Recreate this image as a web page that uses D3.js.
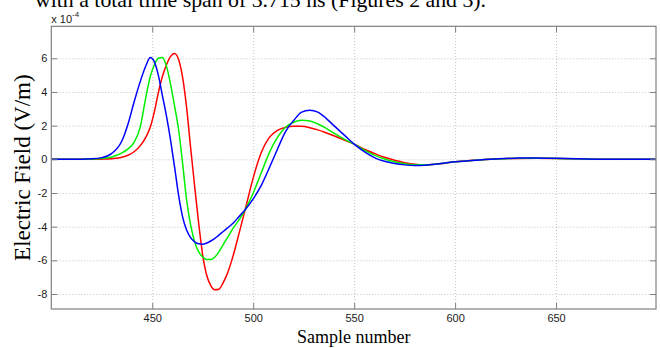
<!DOCTYPE html>
<html>
<head>
<meta charset="utf-8">
<script src="https://cdn.jsdelivr.net/npm/d3@7/dist/d3.min.js"></script>
<style>
	body { margin: 0; background: #fff; }
	svg { display: block; }
	.tick text { font-family: "Liberation Sans", Arial, sans-serif; font-size: 11px; fill: #1a1a1a; }
</style>
</head>
<body>
<div id="chart"></div>
<script>
// sample numbers shared by the three waveforms
var samples = [400, 410, 420, 425, 430, 435, 438, 441, 444, 447, 449, 451, 453, 455, 457, 459, 461, 463, 465, 467,
	469, 471, 473, 475, 477, 479, 481, 483, 485, 487, 490, 493, 496, 500, 504, 508, 512, 516, 520, 524,
	528, 532, 536, 540, 545, 550, 555, 560, 565, 570, 575, 580, 585, 590, 595, 600, 610, 620, 630, 640,
	650, 660, 670, 680, 690, 700];

// electric field, units of 1e-4 V/m
var redField = [0, 0, 0, 0.01, 0.04, 0.12, 0.24, 0.45, 0.8, 1.35, 1.9, 2.8, 3.95, 4.9, 5.6, 6.1, 6.28, 5.95, 4.9, 3.1,
	0.7, -1.6, -3.8, -5.7, -6.9, -7.5, -7.75, -7.72, -7.35, -6.85, -5.75, -4.4, -3.0, -1.1, 0.4, 1.3, 1.72, 1.9, 1.97, 1.96,
	1.88, 1.75, 1.58, 1.4, 1.15, 0.9, 0.6, 0.35, 0.12, -0.05, -0.2, -0.3, -0.33, -0.3, -0.23, -0.15, -0.05, 0.02, 0.05, 0.06,
	0.05, 0.03, 0.01, 0, 0, 0];

var greenField = [0, 0, 0.02, 0.05, 0.14, 0.38, 0.62, 1.0, 1.9, 3.8, 4.9, 5.6, 6.0, 6.05, 5.55, 4.5, 3.2, 1.8, -0.2, -2.4,
	-3.9, -4.9, -5.5, -5.8, -5.95, -5.95, -5.8, -5.5, -5.1, -4.7, -4.1, -3.6, -3.0, -2.0, -0.8, 0.4, 1.3, 1.9, 2.2, 2.32,
	2.28, 2.1, 1.85, 1.55, 1.2, 0.9, 0.55, 0.25, 0.02, -0.15, -0.27, -0.33, -0.33, -0.3, -0.22, -0.15, -0.05, 0.02, 0.06, 0.07,
	0.05, 0.03, 0.01, 0, 0, 0];

var blueField = [0, 0, 0.03, 0.1, 0.35, 1.1, 2.1, 3.4, 4.6, 5.6, 6.05, 5.8, 5.0, 3.8, 2.6, 1.2, -0.4, -2.1, -3.4, -4.2,
	-4.65, -4.9, -5.02, -5.04, -4.97, -4.85, -4.7, -4.5, -4.3, -4.1, -3.8, -3.4, -3.0, -2.35, -1.55, -0.5, 0.6, 1.65, 2.3, 2.8,
	2.92, 2.8, 2.45, 2.0, 1.45, 0.9, 0.45, 0.1, -0.12, -0.25, -0.33, -0.36, -0.35, -0.3, -0.22, -0.15, -0.05, 0.02, 0.07, 0.08,
	0.06, 0.03, 0.01, 0, 0, 0];

var xTicks = [450, 500, 550, 600, 650];
var yTicks = [-8, -6, -4, -2, 0, 2, 4, 6];

var width = 660,
	height = 348,
	plot = {left: 51.3, right: 656, top: 26.3, bottom: 309};

var svg = d3.select("#chart")
	.append("svg")
	.attr("width", width)
	.attr("height", height);

var xScale = d3.scaleLinear().domain([400, 699.5]).range([plot.left, plot.right]);
var yScale = d3.scaleLinear().domain([-8.89, 7.9]).range([plot.bottom, plot.top]);

// cut-off line of the surrounding document text
svg.append("text")
	.attr("x", 35)
	.attr("y", 7)
	.attr("font-family", "Liberation Serif, Times New Roman, serif")
	.attr("font-size", 21.8)
	.attr("fill", "#000")
	.text("with a total time span of 3.715 ns (Figures 2 and 3).");

var plotWidth = plot.right - plot.left,
	plotHeight = plot.bottom - plot.top;

svg.append("rect")
	.attr("x", plot.left)
	.attr("y", plot.top)
	.attr("width", plotWidth)
	.attr("height", plotHeight)
	.attr("fill", "#fff");

// dotted grid
svg.append("g")
	.attr("class", "grid")
	.attr("transform", "translate(0," + plot.bottom + ")")
	.call(d3.axisBottom(xScale).tickValues(xTicks).tickSize(-plotHeight).tickFormat(""))
	.call(g => g.select(".domain").remove());

svg.append("g")
	.attr("class", "grid")
	.attr("transform", "translate(" + plot.left + ",0)")
	.call(d3.axisLeft(yScale).tickValues(yTicks).tickSize(-plotWidth).tickFormat(""))
	.call(g => g.select(".domain").remove());

svg.selectAll(".grid line")
	.attr("stroke", "#c4c4c4")
	.attr("stroke-width", 1)
	.attr("stroke-dasharray", "1,2");

// waveforms
var line = d3.line()
	.x(function(d) { return xScale(d[0]); })
	.y(function(d) { return yScale(d[1]); })
	.curve(d3.curveMonotoneX);

var series = [
	{values: redField, color: "#ff0000"},
	{values: greenField, color: "#00ee00"},
	{values: blueField, color: "#0000ff"}
];

svg.append("clipPath")
	.attr("id", "clip")
	.append("rect")
	.attr("x", plot.left)
	.attr("y", plot.top)
	.attr("width", plotWidth)
	.attr("height", plotHeight);

series.forEach(function(s) {
	svg.append("path")
		.datum(samples.map(function(x, i) { return [x, s.values[i]]; }))
		.attr("clip-path", "url(#clip)")
		.attr("fill", "none")
		.attr("stroke", s.color)
		.attr("stroke-width", 1.5)
		.attr("d", line);
});

// axes, ticks pointing inward
var axisColor = "#808080";

svg.append("g")
	.attr("class", "axis")
	.attr("transform", "translate(0," + plot.bottom + ")")
	.call(d3.axisBottom(xScale).tickValues(xTicks).tickSizeInner(-6).tickSizeOuter(0).tickPadding(5));

svg.append("g")
	.attr("class", "axis")
	.attr("transform", "translate(0," + plot.top + ")")
	.call(d3.axisTop(xScale).tickValues(xTicks).tickSizeInner(-6).tickSizeOuter(0).tickFormat(""));

svg.append("g")
	.attr("class", "axis")
	.attr("transform", "translate(" + plot.left + ",0)")
	.call(d3.axisLeft(yScale).tickValues(yTicks).tickSizeInner(-6).tickSizeOuter(0).tickPadding(4)
		.tickFormat(function(d) { return d === 0 ? "0" : d3.format("d")(d).replace("−", "-"); }));

svg.append("g")
	.attr("class", "axis")
	.attr("transform", "translate(" + plot.right + ",0)")
	.call(d3.axisRight(yScale).tickValues(yTicks).tickSizeInner(-6).tickSizeOuter(0).tickFormat(""));

svg.selectAll(".axis .domain").remove();
svg.selectAll(".axis line").attr("stroke", axisColor);

svg.append("rect")
	.attr("x", plot.left)
	.attr("y", plot.top)
	.attr("width", plotWidth)
	.attr("height", plotHeight)
	.attr("fill", "none")
	.attr("stroke", axisColor)
	.attr("stroke-width", 1.2);

// exponent label
var expLabel = svg.append("text")
	.attr("x", plot.left)
	.attr("y", 23)
	.attr("font-family", "Liberation Sans, Arial, sans-serif")
	.attr("font-size", 11)
	.attr("fill", "#1a1a1a");
expLabel.append("tspan").text("x 10");
expLabel.append("tspan")
	.attr("dy", -6)
	.attr("font-size", 8)
	.text("-4");

// axis titles
svg.append("text")
	.attr("transform", "translate(30," + ((plot.top + plot.bottom) / 2) + ") rotate(-90)")
	.attr("text-anchor", "middle")
	.attr("font-family", "Liberation Serif, Times New Roman, serif")
	.attr("font-size", 23)
	.attr("fill", "#000")
	.text("Electric Field (V/m)");

svg.append("text")
	.attr("x", (plot.left + plot.right) / 2)
	.attr("y", 343)
	.attr("text-anchor", "middle")
	.attr("font-family", "Liberation Serif, Times New Roman, serif")
	.attr("font-size", 18)
	.attr("fill", "#000")
	.text("Sample number");
</script>
</body>
</html>
